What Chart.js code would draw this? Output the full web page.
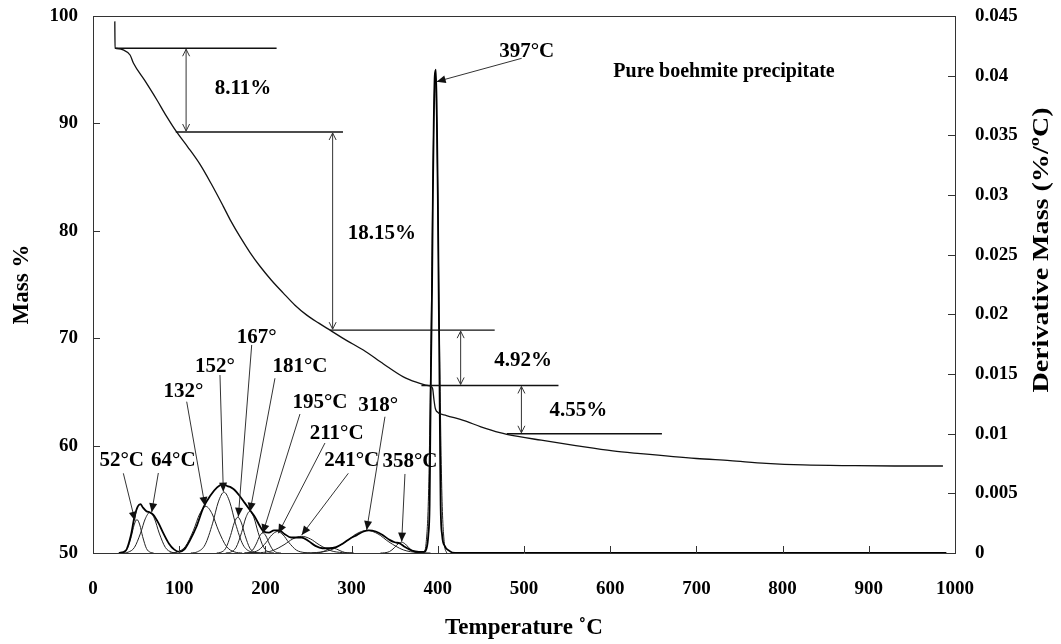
<!DOCTYPE html>
<html><head><meta charset="utf-8">
<script src="https://cdn.jsdelivr.net/npm/chart.js@4.4.0/dist/chart.umd.min.js"></script>
<style>html,body{margin:0;padding:0;background:#fff;}canvas{display:block;}</style>
</head><body>
<canvas id="c" width="1061" height="644"></canvas>
<script>
// ---------- data ----------
const xTicks = [0,100,200,300,400,500,600,700,800,900,1000];
const massTicks = [50,60,70,80,90,100];
const dtgTicks = [0,0.005,0.01,0.015,0.02,0.025,0.03,0.035,0.04,0.045];
const dtgTickLabels = ['0','0.005','0.01','0.015','0.02','0.025','0.03','0.035','0.04','0.045'];

// TGA mass curve (Temperature °C, Mass %)
const massTemp = [25.3,25.6,30,35,43,47,60,74,85,97,110,124,137,151,160,170.5,182,193.7,207,220.8,234,248,262,275,294,313.6,337,360,375,388,392,394,395.5,397,398.5,410,429.6,450,472,480,520,560,603,635,700,739,781,824,882,930,986];
const massPct  = [99.5,97.0,96.95,96.84,96.37,95.6,94.0,92.2,90.7,89.2,87.8,86.2,84.4,82.3,80.9,79.45,78.0,76.7,75.4,74.2,73.1,72.15,71.4,70.75,69.8,68.9,67.6,66.4,65.9,65.6,65.5,65.3,64.3,63.5,63.2,62.8,62.35,61.75,61.2,61.05,60.5,60.0,59.5,59.25,58.8,58.6,58.35,58.2,58.13,58.1,58.1];

// measured DTG curve (Temperature °C, %/°C)
const dtgTemp = [30,38,44,48,52,55,58,62,66,70,76,82,88,94,100,106,112,120,128,136,144,151,156,160,164,170,176,182,188,194,198,204,210,216,222,230,236,242,250,258,266,274,282,290,298,306,314,320,328,336,344,350,356,362,370,378,384,387,389,390.5,391.3,392.2,393.3,394.3,395.3,396.5,397.8,399,400,401,401.8,402.5,403.3,405,408,413,420,990];
const dtgVal  = [0,0.0002,0.0015,0.003,0.0039,0.0041,0.0038,0.0035,0.0034,0.0032,0.0025,0.0016,0.0008,0.0003,0.0001,0.0003,0.0010,0.0022,0.0038,0.0048,0.0055,0.0058,0.0056,0.0055,0.0053,0.0048,0.0042,0.0036,0.0030,0.0022,0.0018,0.0017,0.0019,0.0019,0.0016,0.0013,0.0013,0.0013,0.0010,0.0006,0.0004,0.0004,0.0005,0.0008,0.0012,0.0015,0.0018,0.0019,0.0018,0.0015,0.0011,0.0009,0.0008,0.0005,0.0002,0.0001,0.0001,0.0004,0.0015,0.004,0.010,0.016,0.022,0.030,0.036,0.040,0.0405,0.036,0.030,0.022,0.016,0.010,0.004,0.0015,0.0006,0.0002,0,0];

// deconvoluted component peaks ([Temperature, %/°C])
const comp52  = [[31.7,0],[35.6,0.00006],[40,0.00038],[44.4,0.00137],[47.7,0.00235],[51,0.0028],[54.3,0.00235],[57.6,0.00137],[62,0.00038],[66.4,0.00006],[70.3,0]];
const comp64  = [[34.5,0],[40.8,0.00007],[48,0.00046],[55.2,0.00167],[60.6,0.00286],[66,0.0034],[71.4,0.00286],[76.8,0.00167],[84,0.00046],[91.2,0.00007],[97.5,0]];
const comp132 = [[89,0],[97.4,0.00008],[107,0.00053],[116.6,0.00191],[123.8,0.00328],[131,0.0039],[138.2,0.00328],[145.4,0.00191],[155,0.00053],[164.6,0.00008],[173,0]];
const comp152 = [[113.5,0],[121.2,0.0001],[130,0.00069],[138.8,0.0025],[145.4,0.00428],[152,0.0051],[158.6,0.00428],[165.2,0.0025],[174,0.00069],[182.8,0.0001],[190.5,0]];
const comp167 = [[143.5,0],[148.4,0.00006],[154,0.0004],[159.6,0.00147],[163.8,0.00252],[168,0.0030],[172.2,0.00252],[176.4,0.00147],[182,0.0004],[187.6,0.00006],[192.5,0]];
const comp181 = [[154,0],[159.6,0.00007],[166,0.00047],[172.4,0.00172],[177.2,0.00294],[182,0.0035],[186.8,0.00294],[191.6,0.00172],[198,0.00047],[204.4,0.00007],[210,0]];
const comp195 = [[176,0],[180.2,0.00003],[185,0.00023],[189.8,0.00083],[193.4,0.00143],[197,0.0017],[200.6,0.00143],[204.2,0.00083],[209,0.00023],[213.8,0.00003],[218,0]];
const comp211 = [[175.5,0],[183.2,0.00004],[192,0.00024],[200.8,0.00088],[207.4,0.00151],[214,0.0018],[220.6,0.00151],[227.2,0.00088],[236,0.00024],[244.8,0.00004],[252.5,0]];
const comp241 = [[182.5,0],[194.4,0.00003],[208,0.00019],[221.6,0.00069],[231.8,0.00118],[242,0.0014],[252.2,0.00118],[262.4,0.00069],[276,0.00019],[289.6,0.00003],[301.5,0]];
const comp278 = [[253.5,0],[258.4,0.00001],[264,0.00005],[269.6,0.0002],[273.8,0.00034],[278,0.0004],[282.2,0.00034],[286.4,0.0002],[292,0.00005],[297.6,0.00001],[302.5,0]];
const comp318 = [[244.5,0],[259.2,0.00004],[276,0.00026],[292.8,0.00093],[305.4,0.0016],[318,0.0019],[330.6,0.0016],[343.2,0.00093],[360,0.00026],[376.8,0.00004],[391.5,0]];
const comp358 = [[333.5,0],[338.4,0.00002],[344,0.00012],[349.6,0.00044],[353.8,0.00076],[358,0.0009],[362.2,0.00076],[366.4,0.00044],[372,0.00012],[377.6,0.00002],[382.5,0]];
const comp397 = [[383.6,0],[386.4,0.0008],[389.4,0.0054],[392.4,0.0196],[394.7,0.0336],[397,0.0400],[399.3,0.0336],[401.6,0.0196],[404.6,0.0054],[407.6,0.0008],[410.4,0]];
const components = [comp52,comp64,comp132,comp152,comp167,comp181,comp195,comp211,comp241,comp278,comp318,comp358,comp397];

// mass-loss step annotations (levels in Mass %, spans in °C)
const stepLevels  = [97.0, 89.2, 70.75, 65.6, 61.1];
const stepFrom    = [25.5, 96, 275, 381, 480];
const stepTo      = [213, 290, 466, 540, 660];
const stepArrowT  = [108, 278, 426.5, 497];
const stepLabels  = ['8.11%','18.15%','4.92%','4.55%'];
const stepLabelT  = [174, 335, 499, 563];
const stepLabelM  = [93.2, 79.7, 67.9, 63.3];

// peak labels: text centre (°C, Mass %), arrow start (°C, Mass %), arrow tip (°C, %/°C)
const peakLabels = ['52°C','64°C','132°','152°','167°','181°C','195°C','211°C','241°C','318°','358°C','397°C'];
const peakLabelT = [33.3,93.2,104.8,141.5,189.9,240.1,263.3,282.7,300.1,331,367.7,503.1];
const peakLabelM = [58.6,58.63,65.06,67.38,70.02,67.38,63.97,61.08,58.6,63.75,58.54,96.71];
const arrowFromT = [35.2,75.8,108.7,147.3,184.1,211.1,240.1,269.1,296.2,338.7,361.9,497.3];
const arrowFromM = [57.42,57.45,64.09,66.57,69.37,66.27,62.94,60.24,57.42,62.69,57.36,96.06];
const arrowTipT  = [48.7,68.1,129.9,151.2,168.6,182.1,196.9,215,242.1,317.5,358.1,398.7];
const arrowTipV  = [0.00271,0.00341,0.00394,0.00514,0.00304,0.00346,0.00165,0.00165,0.00151,0.00193,0.00095,0.0395];

const sampleTitle = 'Pure boehmite precipitate';
const sampleTitleT = 603.6, sampleTitleM = 94.8;
const rightTitle = 'Derivative Mass (%/ºC)';

// ---------- drawing ----------
const FONT = '"Liberation Serif","Times New Roman",serif';
const lblFont = 'bold 21px ' + FONT;

const annot = {
  id: 'annot',
  afterDatasetsDraw(chart) {
    const {ctx, chartArea: a, scales: {x, y, y1}} = chart;
    const px = t => x.getPixelForValue(t);
    const py = m => y.getPixelForValue(m);
    const pv = v => y1.getPixelForValue(v);
    const line = (x1, y1_, x2, y2) => { ctx.beginPath(); ctx.moveTo(x1, y1_); ctx.lineTo(x2, y2); ctx.stroke(); };
    ctx.save();
    // frame top + inward ticks
    ctx.strokeStyle = '#333'; ctx.lineWidth = 1;
    line(a.left, a.top + 0.5, a.right, a.top + 0.5);
    xTicks.forEach(t => line(Math.round(px(t)) + 0.5, a.bottom, Math.round(px(t)) + 0.5, a.bottom - 7));
    massTicks.forEach(m => line(a.left, Math.round(py(m)) + 0.5, a.left + 7, Math.round(py(m)) + 0.5));
    dtgTicks.forEach(v => line(a.right, Math.round(pv(v)) + 0.5, a.right - 7, Math.round(pv(v)) + 0.5));

    // step lines
    ctx.strokeStyle = '#111'; ctx.lineWidth = 1.4;
    stepLevels.forEach((m, i) => line(px(stepFrom[i]), py(m), px(stepTo[i]), py(m)));
    // double arrows
    ctx.strokeStyle = '#333'; ctx.lineWidth = 1;
    stepArrowT.forEach((t, i) => {
      const X = px(t), Y1 = py(stepLevels[i]) + 1, Y2 = py(stepLevels[i + 1]) - 1;
      line(X, Y1, X, Y2);
      ctx.beginPath(); ctx.moveTo(X - 3.5, Y1 + 7); ctx.lineTo(X, Y1); ctx.lineTo(X + 3.5, Y1 + 7); ctx.stroke();
      ctx.beginPath(); ctx.moveTo(X - 3.5, Y2 - 7); ctx.lineTo(X, Y2); ctx.lineTo(X + 3.5, Y2 - 7); ctx.stroke();
    });
    ctx.fillStyle = '#000'; ctx.font = lblFont; ctx.textAlign = 'center'; ctx.textBaseline = 'middle';
    stepLabels.forEach((s, i) => ctx.fillText(s, px(stepLabelT[i]), py(stepLabelM[i])));

    // peak arrows
    peakLabels.forEach((s, i) => {
      const X1 = px(arrowFromT[i]), Y1 = py(arrowFromM[i]);
      const X2 = px(arrowTipT[i]), Y2 = pv(arrowTipV[i]);
      ctx.strokeStyle = '#333'; ctx.lineWidth = 1;
      line(X1, Y1, X2, Y2);
      const ang = Math.atan2(Y2 - Y1, X2 - X1), L = 9, W = 4;
      ctx.beginPath();
      ctx.moveTo(X2, Y2);
      ctx.lineTo(X2 - L * Math.cos(ang) + W * Math.sin(ang), Y2 - L * Math.sin(ang) - W * Math.cos(ang));
      ctx.lineTo(X2 - L * Math.cos(ang) - W * Math.sin(ang), Y2 - L * Math.sin(ang) + W * Math.cos(ang));
      ctx.closePath(); ctx.fillStyle = '#111'; ctx.fill();
      ctx.fillStyle = '#000';
      ctx.fillText(s, px(peakLabelT[i]), py(peakLabelM[i]));
    });
    ctx.textAlign = 'left';
    ctx.font = 'bold 20px ' + FONT;
    ctx.fillText(sampleTitle, px(sampleTitleT), py(sampleTitleM));

    // right axis title (reads bottom-to-top, as in the reference)
    ctx.save();
    ctx.translate(1042, 250);
    ctx.rotate(-Math.PI / 2);
    ctx.scale(1.22, 1);
    ctx.textAlign = 'center'; ctx.textBaseline = 'middle';
    ctx.font = 'bold 23px ' + FONT;
    ctx.fillText(rightTitle, 0, 0);
    ctx.restore();
    ctx.restore();
  }
};

const toPts = (xs, ys) => xs.map((t, i) => ({x: t, y: ys[i]}));
const datasets = [
  {data: toPts(massTemp, massPct), yAxisID: 'y', borderColor: '#111', borderWidth: 1.3, pointRadius: 0, cubicInterpolationMode: 'monotone', fill: false},
  {data: toPts(dtgTemp, dtgVal), yAxisID: 'y1', borderColor: '#000', borderWidth: 1.8, pointRadius: 0, cubicInterpolationMode: 'monotone', fill: false}
];
components.forEach(c => datasets.push({data: c.map(p => ({x: p[0], y: p[1]})), yAxisID: 'y1', borderColor: '#222', borderWidth: 1, pointRadius: 0, cubicInterpolationMode: 'monotone', fill: false}));

const tickFont = {family: FONT, size: 19, weight: 'bold'};
const titleFont = {family: FONT, size: 23, weight: 'bold'};
const noPad = s => { s.paddingTop = 0; s.paddingBottom = 0; s.paddingLeft = 0; s.paddingRight = 0; };

new Chart(document.getElementById('c'), {
  type: 'line',
  data: {datasets},
  options: {
    responsive: false, animation: false, devicePixelRatio: 1,
    layout: {padding: {top: 16, left: 0, right: 0, bottom: 0}},
    plugins: {legend: {display: false}, tooltip: {enabled: false}},
    scales: {
      x: {
        type: 'linear', min: 0, max: 1000,
        afterBuildTicks: s => { s.ticks = xTicks.map(v => ({value: v})); },
        afterFit: s => { s.height = 91; noPad(s); },
        ticks: {font: tickFont, color: '#000', padding: 25, maxRotation: 0, callback: v => String(v)},
        grid: {display: false, drawTicks: false},
        border: {display: true, color: '#333', width: 1},
        title: {display: true, text: 'Temperature ˚C', font: titleFont, color: '#000', padding: {top: 0, bottom: 2}}
      },
      y: {
        type: 'linear', position: 'left', min: 50, max: 100,
        afterBuildTicks: s => { s.ticks = massTicks.map(v => ({value: v})); },
        afterFit: s => { s.width = 93; noPad(s); },
        ticks: {font: tickFont, color: '#000', padding: 15, callback: v => String(v)},
        grid: {display: false, drawTicks: false},
        border: {display: true, color: '#333', width: 1},
        title: {display: true, text: 'Mass %', font: titleFont, color: '#000', padding: {top: 8, bottom: 0}}
      },
      y1: {
        type: 'linear', position: 'right', min: 0, max: 0.045,
        afterBuildTicks: s => { s.ticks = dtgTicks.map(v => ({value: v})); },
        afterFit: s => { s.width = 106; noPad(s); },
        ticks: {font: tickFont, color: '#000', padding: 20, callback: (v, i) => dtgTickLabels[i]},
        grid: {display: false, drawTicks: false},
        border: {display: true, color: '#333', width: 1},
        title: {display: false}
      }
    }
  },
  plugins: [annot]
});
</script>
</body></html>
